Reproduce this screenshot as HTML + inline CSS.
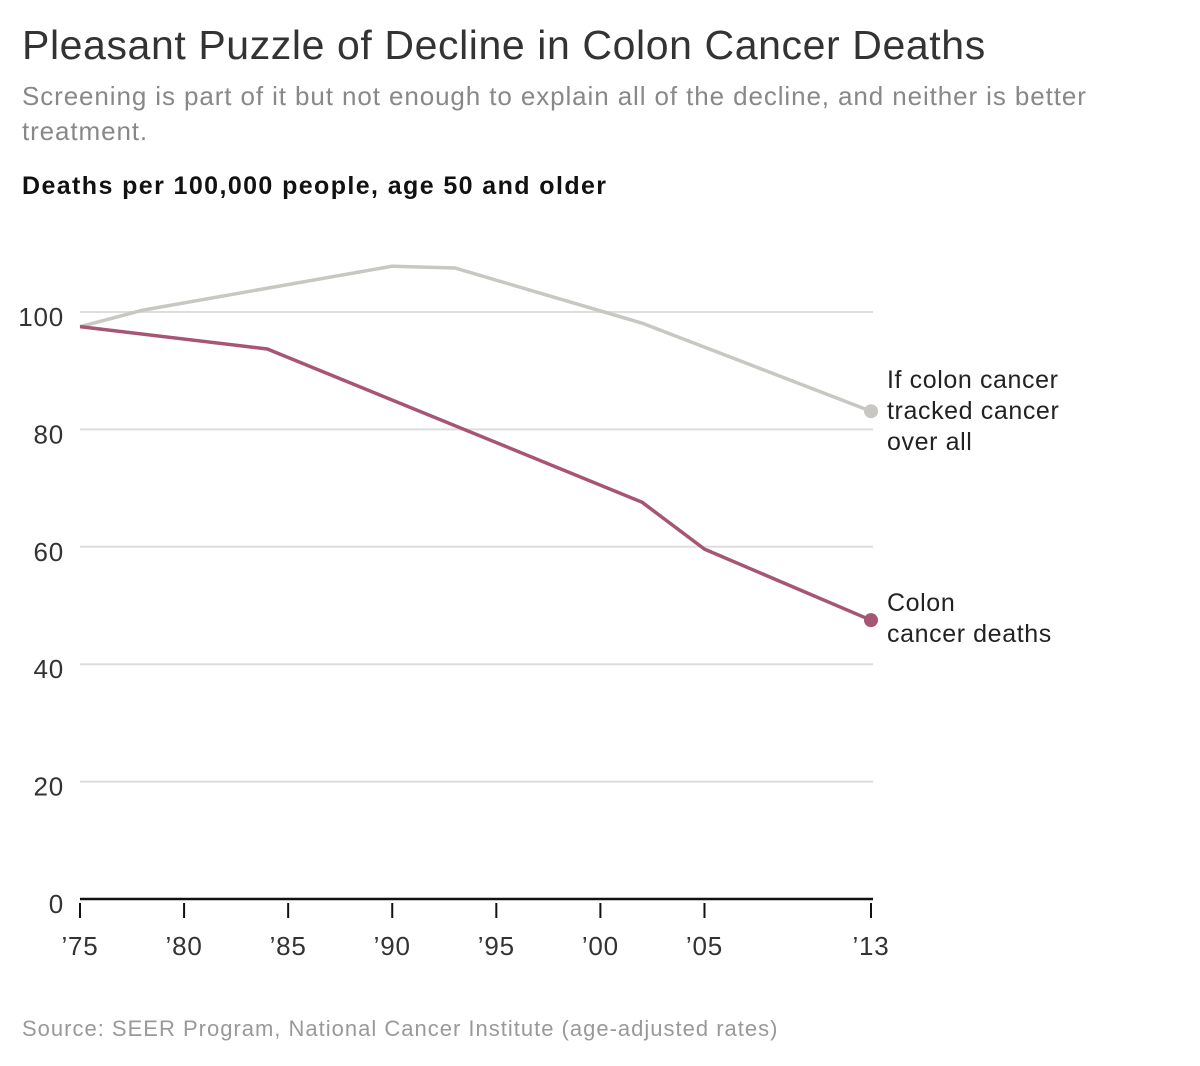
<!DOCTYPE html>
<html><head><meta charset="utf-8"><style>
body{margin:0;background:#fff;width:1200px;height:1066px;overflow:hidden;font-family:"Liberation Sans",sans-serif;}
.t{position:absolute;left:22px;top:22px;font-size:41px;color:#333;letter-spacing:0.6px}
.s{position:absolute;left:22px;top:79px;width:1120px;font-size:26px;line-height:35px;color:#888;letter-spacing:0.9px}
.h{position:absolute;left:22px;top:172px;font-size:25px;font-weight:bold;color:#111;letter-spacing:1.4px}
.src{position:absolute;left:22px;top:1016px;font-size:22px;color:#999;letter-spacing:1px}
svg{position:absolute;left:0;top:0}
</style></head><body>
<div class="t">Pleasant Puzzle of Decline in Colon Cancer Deaths</div>
<div class="s">Screening is part of it but not enough to explain all of the decline, and neither is better treatment.</div>
<div class="h">Deaths per 100,000 people, age 50 and older</div>
<div class="src">Source: SEER Program, National Cancer Institute (age-adjusted rates)</div>
<svg id="c" width="1200" height="1066"></svg>
<script>
const yTicks=[0,20,40,60,80,100];
const xTicks=[1975,1980,1985,1990,1995,2000,2005,2013];
const xTickLabels=["’75","’80","’85","’90","’95","’00","’05","’13"];
const overallYears=[1975,1978,1990,1993,2002,2013];
const overallValues=[97.5,100.3,107.8,107.5,98.1,83.1];
const colonYears=[1975,1984,2002,2005,2013];
const colonValues=[97.5,93.7,67.6,59.6,47.5];
const NS="http://www.w3.org/2000/svg";
const svg=document.getElementById('c');
const x=v=>80+(v-1975)*(871-80)/38;
const y=v=>899-v*5.87;
function mk(t,a,p){const e=document.createElementNS(NS,t);for(const k in a)e.setAttribute(k,a[k]);(p||svg).appendChild(e);return e;}
yTicks.forEach(v=>{
 if(v>0){const g=mk('line',{x1:80,x2:873,y1:y(v),y2:y(v),stroke:'#ddd','stroke-width':2});
 
 }
 const t=mk('text',{x:64,y:y(v)+14,'font-size':26,fill:'#333','text-anchor':'end','letter-spacing':0.8});t.textContent=v;
 
 
});
const ax=mk('line',{x1:80,x2:873,y1:899,y2:899,stroke:'#111','stroke-width':2.5});


xTicks.forEach((v,i)=>{
 const tk=mk('line',{x1:x(v),x2:x(v),y1:903,y2:918,stroke:'#111','stroke-width':2});
 
 
 const t=mk('text',{x:x(v),y:955,'font-size':26,fill:'#333','text-anchor':'middle','letter-spacing':0.8});t.textContent=xTickLabels[i];
 
 
});
function series(xs,vs,col,name){
 const p=mk('polyline',{points:xs.map((v,i)=>x(v)+','+y(vs[i])).join(' '),fill:'none',stroke:col,'stroke-width':3.5,'stroke-linejoin':'round'});
 
 
 const n=xs.length-1;
 const c=mk('circle',{cx:x(xs[n]),cy:y(vs[n]),r:7,fill:col});
 
 
}
series(overallYears,overallValues,'#c9c7c2','overall-cancer');
series(colonYears,colonValues,'#a65575','colon-cancer');
function label(lines,top,name){
 const t=mk('text',{x:887,y:top,'font-size':25,fill:'#222','letter-spacing':0.6});
 
 
 lines.forEach((l,i)=>{const s=mk('tspan',{x:887,dy:i?31:0},t);s.textContent=l;});
}
label(["If colon cancer","tracked cancer","over all"],388,'overall-label');
label(["Colon","cancer deaths"],611,'colon-label');
</script>
</body></html>
